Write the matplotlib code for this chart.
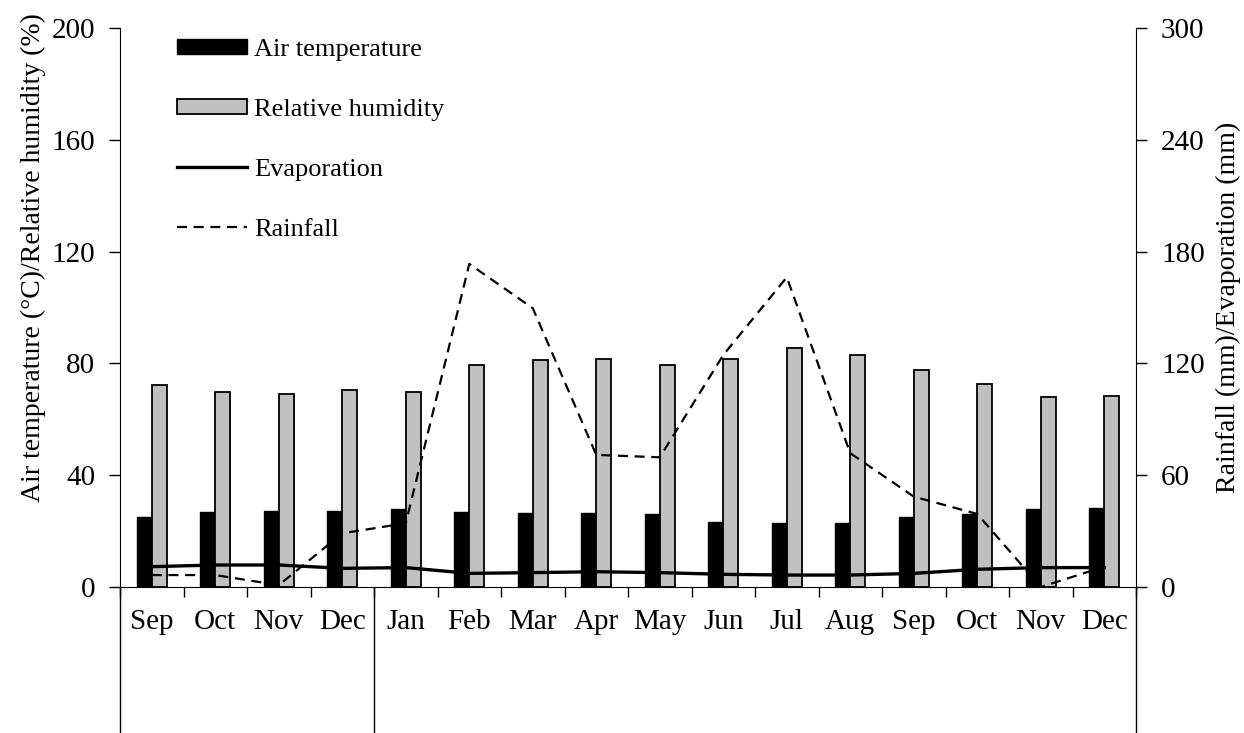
import numpy as np
import matplotlib
matplotlib.use('Agg')
import matplotlib.pyplot as plt

plt.rcParams['font.family'] = ['Liberation Serif', 'DejaVu Serif']
plt.rcParams['font.size'] = 21

months = ['Sep', 'Oct', 'Nov', 'Dec', 'Jan', 'Feb', 'Mar', 'Apr',
          'May', 'Jun', 'Jul', 'Aug', 'Sep', 'Oct', 'Nov', 'Dec']
air_temp = [25.1, 26.8, 27.3, 27.3, 27.8, 26.8, 26.4, 26.6,
            26.2, 23.4, 23.0, 22.8, 24.9, 26.1, 27.8, 28.2]
humidity = [72.3, 69.9, 68.9, 70.6, 69.8, 79.4, 81.1, 81.5,
            79.4, 81.6, 85.5, 82.9, 77.7, 72.6, 68.1, 68.4]
evaporation = [10.9, 11.8, 11.8, 10.0, 10.4, 7.3, 7.7, 8.2,
               7.7, 6.8, 6.4, 6.4, 7.3, 9.5, 10.4, 10.4]
rainfall = [6.4, 6.4, 1.0, 28.8, 34.2, 173.4, 149.6, 70.9,
            69.6, 124.5, 166.2, 71.8, 48.5, 39.2, 0.0, 10.9]
year_breaks = [0, 4, 16]

x = np.arange(len(months))
w = 0.235

fig = plt.figure(figsize=(12.44, 7.33), dpi=100)
ax = fig.add_axes([0.0965, 0.1992, 0.8167, 0.7626])
ax2 = ax.twinx()

b1 = ax.bar(x - w / 2, air_temp, w, color='black', edgecolor='black', linewidth=1, label='Air temperature')
b2 = ax.bar(x + w / 2, humidity, w, color='#C0C0C0', edgecolor='black', linewidth=1.3, label='Relative humidity')

l1, = ax2.plot(x, evaporation, color='black', linewidth=2.4, label='Evaporation')
l2, = ax2.plot(x, rainfall, color='black', linewidth=1.6, label='Rainfall')
l2.set_dashes((4.5, 3))

ax.set_xlim(-0.5, len(months) - 0.5)
ax.set_ylim(0, 200)
ax2.set_ylim(0, 300)
ax.set_yticks(np.arange(0, 201, 40))
ax2.set_yticks(np.arange(0, 301, 60))

# ticks on category boundaries, labels in the middle
ax.set_xticks(np.arange(-0.5, len(months), 1))
ax.set_xticklabels([])
ax.set_xticks(x, minor=True)
ax.set_xticklabels(months, minor=True)
ax.tick_params(axis='x', which='major', direction='out', length=7, width=1)
ax.tick_params(axis='x', which='minor', length=0, pad=16)
ax.tick_params(axis='y', direction='out', length=8, width=1, pad=10)
ax2.tick_params(axis='y', direction='out', length=8, width=1, pad=10)

for a in (ax, ax2):
    a.spines['top'].set_visible(False)
ax.spines['right'].set_visible(False)
ax2.spines['left'].set_visible(False)
ax2.spines['bottom'].set_visible(False)

ax.set_ylabel('Air temperature (°C)/Relative humidity (%)', fontsize=20)
ax.yaxis.set_label_coords(-0.073, 0.59)
ax2.set_ylabel('Rainfall (mm)/Evaporation (mm)', fontsize=20, labelpad=8)

# year separators under the axis
for b in year_breaks:
    ax.plot([b - 0.5, b - 0.5], [0, -0.27], color='black', linewidth=1,
            transform=ax.get_xaxis_transform(), clip_on=False)

ax2.legend([b1, b2, l1, l2], ['Air temperature', 'Relative humidity', 'Evaporation', 'Rainfall'],
           loc='upper left', bbox_to_anchor=(0.046, 1.0), frameon=False,
           handlelength=2.65, handleheight=0.5, handletextpad=0.25, labelspacing=1.44,
           borderaxespad=0, fontsize=19)

plt.savefig('out.png', dpi=100)
